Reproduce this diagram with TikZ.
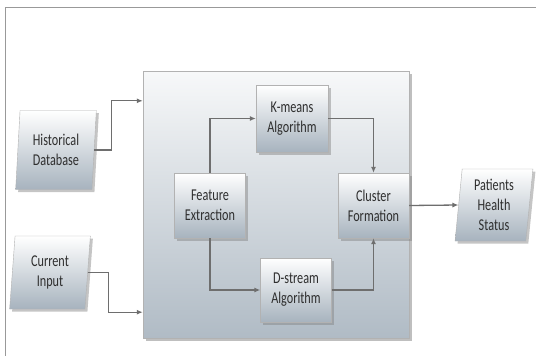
\documentclass[tikz,border=0pt]{standalone}
\usepackage{fontspec}
\setmainfont[FakeStretch=0.74]{Carlito}
\usetikzlibrary{shapes.geometric,shadows,arrows.meta,positioning}
\definecolor{boxblue}{HTML}{A7B3BE}
\definecolor{panelblue}{HTML}{B0BBC5}
\definecolor{txtgray}{HTML}{2E2E2E}
\definecolor{linegray}{HTML}{6E6E6E}

\begin{document}
\begin{tikzpicture}[x=1pt,y=-1pt,
    block/.style={draw=gray!60,top color=white,bottom color=boxblue,
        drop shadow={opacity=0.45,shadow xshift=2.5pt,shadow yshift=-2.5pt},
        align=center,text=txtgray,font=\fontsize{16.5}{20}\selectfont,inner sep=1pt},
    slanted/.style={block,trapezium,trapezium left angle=85,trapezium right angle=95,
        trapezium stretches=true},
    flow/.style={draw=linegray,line width=1.3pt,-{Latex[length=6pt,width=5pt]}}]
        \useasboundingbox (0,0) rectangle (536,356);
        \fill[white] (0,0) rectangle (536,356);
        \draw[gray!80,line width=1pt] (5,360) -- (5,7) -- (540,7);
        \node[draw=gray!60,shading=axis,shading angle=225,top color=white!90!panelblue,bottom color=panelblue,
            drop shadow={opacity=0.5,shadow xshift=3pt,shadow yshift=-3pt},
            minimum width=266,minimum height=267] (P) at (276,204.5) {};
        \node[slanted,minimum width=81,minimum height=79] (HD) at (56,150) {Historical\\Database};
        \node[slanted,minimum width=81,minimum height=73] (CI) at (50,272.5) {Current\\Input};
        \node[slanted,minimum width=78,minimum height=72] (PS) at (494,205) {Patients\\Health\\Status};
        \node[block,minimum width=71,minimum height=65] (FE) at (210,205.5) {Feature\\Extraction};
        \node[block,minimum width=72,minimum height=67] (KM) at (292,118.5) {K-means\\Algorithm};
        \node[block,minimum width=71,minimum height=64] (DS) at (296,290) {D-stream\\Algorithm};
        \node[block,minimum width=71,minimum height=65] (CF) at (373.5,205.5) {Cluster\\Formation};
        \draw[flow] (HD.east) -- ++(17,0) |- ([yshift=-30pt]P.north west);
        \draw[flow] (CI.east) -- ++(21,0) |- ([yshift=26pt]P.south west);
        \draw[flow] (FE.north) |- (KM.west);
        \draw[flow] (FE.south) |- (DS.west);
        \draw[flow] (KM.east) -| (CF.north);
        \draw[flow] (DS.east) -| (CF.south);
        \draw[flow] (CF.east) -- (PS.west);
    \end{tikzpicture}
\end{document}
